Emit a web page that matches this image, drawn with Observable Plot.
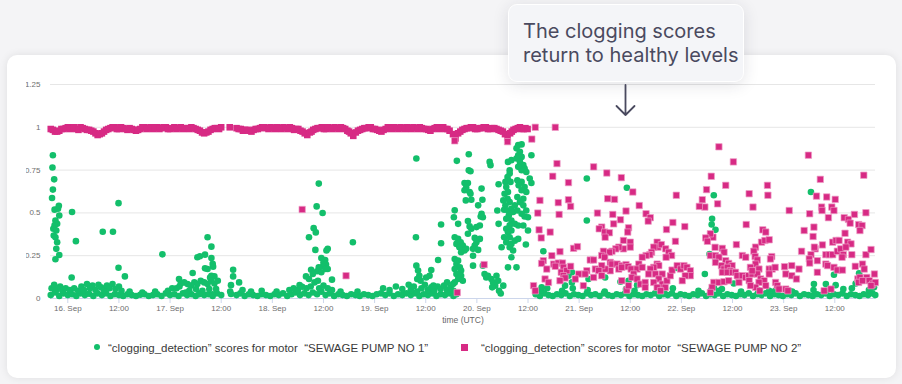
<!DOCTYPE html>
<html><head><meta charset="utf-8">
<script src="https://cdn.jsdelivr.net/npm/d3@7"></script>
<script src="https://cdn.jsdelivr.net/npm/@observablehq/plot@0.6"></script>
<style>
html,body{margin:0;padding:0}
body{width:902px;height:384px;position:relative;overflow:hidden;background:#f4f4f6;font-family:"Liberation Sans",Arial,sans-serif}
.card{position:absolute;left:7px;top:55px;width:889px;height:323px;background:#fff;border-radius:10px;box-shadow:0 0 8px rgba(0,0,0,.09)}
#chart{position:absolute;left:0;top:0}
.legend-item{position:absolute;top:341px;font-size:11.5px;line-height:14px;color:#3a3a3a;white-space:pre}
.legend-marker{position:absolute}
.note{position:absolute;left:508px;top:4px;width:236px;height:78px;box-sizing:border-box;background:#f4f5f8;border:1.5px solid #fff;border-radius:9px;box-shadow:0 3px 16px rgba(40,40,60,.13);font-family:Inter,"Noto Sans",sans-serif;font-size:20px;line-height:24px;color:#4a4a5f;padding:14px 0 0 14px}
.arrow{position:absolute;left:615px;top:84px}
</style></head><body>
<div class="card"></div>
<div id="chart"></div>
<div id="legend"></div>
<div class="note">The clogging scores<br>return to healthy levels</div>
<svg class="arrow" width="22" height="34" viewBox="0 0 22 34"><path d="M10.5 1V31M1.5 22L10.5 31L19.5 22" fill="none" stroke="#4a4a5f" stroke-width="1.8" stroke-linecap="round" stroke-linejoin="round"/></svg>
<script>
// times: hours after 16 Sep 00:00 UTC; values: clogging score
const seriesNames = [
  "\u201cclogging_detection\u201d scores for motor  \u201cSEWAGE PUMP NO 1\u201d",
  "\u201cclogging_detection\u201d scores for motor  \u201cSEWAGE PUMP NO 2\u201d"
];
const yTicks = [0, 0.25, 0.5, 0.75, 1, 1.25];

const pump1Baseline = [
[-4,.02],[-3,.035],[-2,.015],[-1,.03],[0,.02],[1,.025],[2,.015],[3,.03],[4,.02],[5,.028],[6,.015],[7,.03],[8,.02],[9,.03],[10,.015],[11,.025],[12,.02],[13,.015],[14,.025],[15,.02],[16,.015],[17,.022],[18,.025],[19,.015],[20,.02],[21,.025],[22,.015],[23,.03],[24,.02],[25,.025],[26,.015],[27,.03],[28,.02],[29,.025],[30,.015],[31,.03],[32,.02],[33,.025],[34,.015],[35,.03],[36,.02],
[39.6,.02],[40.5,.03],[41.5,.015],[42.5,.025],[43.5,.02],[44.5,.015],[45.5,.025],[46.5,.02],[47.5,.015],[48.5,.025],[49.5,.02],[50.5,.03],[51.5,.015],[52.5,.025],[53.5,.035],[54.5,.02],[55.5,.03],[56.5,.02],[57.5,.035],[58.5,.025],[59.5,.04],[60.5,.02],[61.5,.03],[62.5,.015],[63.5,.025],[64.5,.02],[65.5,.015],[66.5,.025],[67.5,.02],[68.5,.015],[69.5,.025],[70.5,.02],[71.5,.015],[72.5,.025],[73.5,.03],[74.5,.02],[75.5,.03],[76.5,.015],[77.5,.025],[78.5,.02],[79.5,.03],[80.5,.02],[81.5,.03],[82.5,.015],[83.5,.025],[84.5,.02],[85.5,.03],[86.5,.015],[87.5,.025],[88.5,.02],[89.5,.03],[90.5,.015],[91.2,.025],
[109.8,.025],[110.8,.015],[111.8,.03],[112.8,.02],[113.8,.015],[114.8,.025],[115.8,.02],[116.8,.03],[117.8,.015],[118.8,.025],[119.8,.02],[120.8,.015],[121.8,.03],[122.8,.02],[123.8,.025],[124.8,.015],[125.8,.03],[126.8,.02],[127.8,.015],[128.8,.025],[129.8,.02],[130.8,.03],[131.8,.015],[132.8,.025],[133.8,.02],[134.8,.015],[135.8,.025],[136.8,.02],[137.8,.03],[138.8,.015],[139.8,.025],[140.8,.02],[141.8,.03],[142.8,.015],[143.8,.025],[144.8,.02],[145.8,.015],[146.8,.025],[147.8,.02],[148.8,.03],[149.8,.015],[150.8,.025],[151.8,.02],[152.8,.03],[153.8,.015],[154.8,.025],[155.8,.02],[156.8,.015],[157.8,.025],[158.8,.02],[159.8,.03],[160.8,.015],[161.8,.025],[162.8,.02],[163.8,.03],[164.8,.015],[165.8,.025],[166.8,.02],[167.8,.015],[168.8,.025],[169.8,.02],[170.8,.03],[171.8,.015],[172.8,.025],[173.8,.02],[174.8,.015],[175.8,.025],[176.8,.02],[177.8,.03],[178.8,.015],[179.8,.025],[180.8,.02],[181.8,.03],[182.8,.015],[183.8,.025],[184.8,.02],[185.8,.015],[186.8,.025],[187.8,.02],[188.8,.03],[189.5,.02]
];
const pump1Cluster = [
[-3.8,.06],[-3.2,.08],[-2.6,.05],[-1.8,.07],[-1.2,.045],[-0.5,.06],[0.5,.05],[1.5,.06],[2.4,.045],[3.2,.07],[3.8,.05],[4.5,.085],[5.2,.06],[5.8,.075],[6.5,.05],[7.2,.08],[7.8,.065],[8.5,.05],[9.2,.075],[9.8,.06],[10.5,.085],[11.2,.055],[12.0,.07],[12.6,.045],[14.5,.04],[17.5,.035],[20.5,.04],[23.5,.045],[24.5,.06],[25.5,.06],[26.2,.07],
[41,.05],[43,.04],[45.5,.045],[49,.04],[52,.05],[53,.06],[54,.05],[56,.06],[57,.07],[59,.06],[60,.075],[61,.06],[62,.05],[64,.04],[68,.04],[74,.06],[75.5,.05],[77,.07],[78.5,.055],[80,.08],[80.5,.05],[81.2,.07],[82,.04],[83,.06],[83.8,.08],[84.5,.05],[85.3,.065],[86,.045],[86.8,.07],[87.5,.055],[88.3,.075],[89,.05],[89.8,.065],[90.5,.045],
[111,.05],[112.5,.06],[116,.045],[118.5,.06],[122,.05],[126,.04],[131,.055],[133,.045],[140,.05],[142,.06],[148,.045],[151,.05],[153.5,.055],[158,.04],[162,.05],[166,.045],[170,.04],[175,.05],[178,.045],[182,.055],[184,.06],[188,.05],[189.2,.065]
];
const pump1Points = [
[-3.5,.837],[-3.6,.765],[-3.2,.696],[-3.5,.636],[-3.7,.587],[-3.1,.519],[-2.3,.524],[-2.1,.542],[-2.0,.485],[-2.9,.456],[-2.5,.437],[-3.1,.427],[-3.4,.407],[-2.7,.397],[-3.3,.368],[-2.9,.358],[-2.5,.329],[-2.7,.29],[-2.0,.254],[-2.9,.229],
[1.0,.505],[1.9,.335],[0.9,.123],[8.2,.39],[10.6,.39],[11.9,.557],[11.9,.18],[13.4,.129],[22.2,.258],[26.1,.114],[26.5,.088],
[32.8,.358],[33.7,.303],[30.4,.241],[31.0,.247],[32.2,.256],[33.7,.237],[34.0,.202],[34.1,.186],[32.8,.172],[32.2,.176],[29.3,.149],[33.7,.133],[34.4,.129],[33.4,.123],
[27.3,.094],[28.1,.084],[28.9,.075],[29.7,.094],[30.4,.084],[31.2,.104],[32.0,.094],[32.8,.084],[33.6,.104],[34.4,.088],[35.2,.104],[28.5,.045],[30.1,.055],[31.6,.045],[33.2,.055],[34.8,.055],[27.7,.035],[30.8,.025],[34.0,.025],
[38.8,.168],[38.8,.129],[38.3,.078],[38.1,.041],[38.3,.026],[40.2,.094],
[58.9,.671],[58.4,.538],[59.8,.499],[57.7,.411],[58.2,.386],[56.6,.358],[58.1,.284],[61.0,.29],[60.7,.28],[59.5,.237],[60.4,.225],[60.0,.21],[60.6,.198],[59.9,.188],[58.9,.182],[58.5,.159],[59.5,.153],[60.5,.172],[61.0,.172],[57.1,.168],[57.5,.143],[55.9,.129],[56.6,.114],[57.9,.094],[58.7,.104],[62.0,.11],[54.4,.078],[55.0,.069],[66.9,.329],
[81.8,.818],[81.7,.358],
[81.8,.192],[82.2,.163],[82.5,.133],[82.0,.114],[82.8,.104],[85.3,.166],[84.9,.133],[84.1,.123],[86.9,.225],[87.6,.432],[87.6,.323],[89.0,.094],[85.8,.075],
[90.8,.231],[91.6,.221],[91.2,.202],[92.0,.182],[90.8,.172],[92.3,.163],[91.2,.143],[92.3,.133],[91.6,.114],[90.8,.094],[92.7,.104],[90.4,.084],
[90.8,.515],[90.6,.475],[90.8,.358],[91.6,.348],[91.2,.319],[92.2,.329],[92.7,.309],[91.9,.299],[93.1,.28],[92.3,.27],[93.5,.29],
[95.1,.25],[95.1,.192],[91.6,.436],[93.9,.452],[94.3,.421],[94.7,.407],[95.9,.417],[96.7,.426],[93.9,.378],
[95.5,.354],[96.7,.348],[95.9,.329],[95.5,.309],[95.1,.29],[96.3,.284],
[93.1,.675],[93.9,.675],[93.5,.648],[93.1,.632],[94.3,.622],[94.5,.612],[93.4,.573],[94.7,.577],[94.1,.749],[94.5,.743],[94.1,.843],[91.3,.804],
[97.1,.642],[97.3,.577],[96.3,.544],[97.1,.495],[97.4,.475],[96.9,.479],[99.0,.798],[99.2,.779],[101.1,.667],[100.8,.514],[101.1,.436],
[97.4,.192],[97.8,.143],[98.2,.123],[98.6,.133],[99.4,.114],[99.8,.094],[100.6,.133],[101.0,.104],[100.3,.075],[99.6,.065],[101.2,.045],[101.6,.029],[102.2,.075],
[103.3,.798],[104.1,.808],[103.7,.749],[103.7,.73],[103.2,.71],[103.3,.691],[102.7,.681],[103.9,.681],
[102.9,.651],[103.3,.622],[102.5,.612],[103.2,.583],[102.2,.573],[103.7,.563],[102.7,.544],[102.4,.518],[103.3,.514],[104.1,.524],[104.5,.505],[103.5,.485],[102.9,.466],[104.1,.456],[104.9,.436],[103.7,.427],[102.9,.407],[104.1,.397],[103.3,.387],[102.4,.358],[103.7,.358],[102.9,.329],[103.7,.299],
[101.8,.299],[104.1,.319],[104.9,.338],[104.5,.28],[105.7,.348],
[105.7,.896],[106.5,.9],[105.3,.877],[106.1,.857],[105.7,.837],[106.5,.827],[105.3,.818],[106.1,.798],[106.9,.779],[107.2,.759],[106.5,.749],[107.6,.739],[105.7,.769],
[108.8,.837],[108.4,.701],[108.8,.675],
[105.5,.69],[106.5,.681],[105.8,.661],[107.2,.651],[106.5,.632],[107.6,.622],[105.5,.593],[106.9,.583],[106.1,.563],[104.9,.544],[106.9,.544],[107.6,.514],[105.5,.514],[106.5,.495],[107.2,.479],[108.0,.475],[106.9,.426],[105.7,.426],[108.0,.397],
[107.5,.315],[104.1,.241],[103.3,.182],[105.3,.182],[110.0,.041],
[111.6,.276],[111.2,.065],[121.8,.701],[121.8,.456],[131.2,.647],[143.0,.178],[126.1,.123],[129.7,.098],[131.6,.104],[133.6,.078],[118.3,.153],[117.5,.133],[118.3,.094],[116.7,.075],[122.2,.114],
[151.6,.603],[151.2,.466],[151.1,.432],[152.0,.401],[150.6,.26],[152.4,.241],[149.5,.143],[151.6,.065],[152.8,.045],[156.3,.088],
[174.4,.622],[179.8,.139],[177.9,.084],[180.2,.078],[185.7,.147],[184.9,.088],[175.1,.084],[169.3,.045],[164.6,.045]
];

const pump2Band = [
[-4,.99],[-3,.975],[-2,.98],[-1,.99],[0,1],[1,.995],[2,.99],[3,1],[4,.99],[5,.985],[6,.975],[7,.955],[8,.965],[9,.985],[10,.995],[11,1],[12,.99],[13,.995],[14,.985],[15,.99],[16,.98],[17,.99],[18,1],[19,.995],[20,.99],[21,1],[22,.995],[23,1],[24,.99],[25,1],[26,.995],[27,.99],[28,.995],[29,1],[30,.99],[31,.98],[32,.965],[33,.975],[34,.99],[35,.995],[36,1],
[38,1],
[39.6,.995],[40.6,.99],[41.6,.985],[42.6,.98],[43.6,.985],[44.6,.99],[45.6,1],[46.6,.995],[47.6,1],[48.6,.99],[49.6,.995],[50.6,1],[51.6,.99],[52.6,.995],[53.6,.99],[54.6,.98],[55.6,.965],[56.2,.955],[56.8,.97],[57.6,.985],[58.6,.995],[59.6,1],[60.6,.99],[61.6,.995],[62.6,1],[63.6,.99],[64.6,.995],[65.6,.98],[66.4,.965],[67,.95],[67.6,.97],[68.6,.985],[69.6,.995],[70.6,1],[71.6,.99],[72.6,.985],[73.6,.975],[74.6,.99],[75.6,.995],[76.6,1],[77.6,.99],[78.6,.995],[79.6,1],[80.6,.99],[81.6,.995],[82.6,1],[83.6,.99],[84.6,.985],[85.6,.99],[86.6,1],[87.6,.995],[88.6,.99],[89.6,.98],[90.4,.96],[91,.935],[91.6,.965],[92.6,.985],[93.6,.995],[94.6,1],[95.6,.99],[96.6,.995],[97.6,1],[98.6,.99],[99.6,.995],[100.6,.99],[101.6,.98],[102.6,.96],[103.2,.94],[103.8,.965],[104.6,.985],[105.6,.995],[106.6,.99],[107.4,.995]
];
const pump2BandHalfHours = [
[-3.5,.985],[-2.5,.975],[-1.5,.99],[-0.5,.995],[0.5,.99],[1.5,1],[2.5,.985],[3.5,.995],[4.5,.985],[5.5,.98],[6.5,.965],[7.5,.96],[8.5,.975],[9.5,.99],[10.5,1],[11.5,.99],[12.5,1],[13.5,.99],[14.5,.995],[15.5,.985],[16.5,.985],[17.5,1],[18.5,.99],[19.5,1],[20.5,.995],[21.5,.99],[22.5,1],[23.5,.99],[24.5,.995],[25.5,.99],[26.5,1],[27.5,.995],[28.5,.99],[29.5,.995],[30.5,.985],[31.5,.97],[32.5,.97],[33.5,.985],[34.5,.995],[35.5,.99],
[40.1,.99],[41.1,.98],[42.1,.985],[43.1,.975],[44.1,.99],[45.1,.995],[46.1,1],[47.1,.99],[48.1,.995],[49.1,1],[50.1,.99],[51.1,.995],[52.1,1],[53.1,.985],[54.1,.99],[55.1,.975],[57.2,.975],[58.1,.99],[59.1,.995],[60.1,.99],[61.1,1],[62.1,.99],[63.1,.995],[64.1,1],[65.1,.99],[66,.975],[68.1,.98],[69.1,.99],[70.1,.995],[71.1,1],[72.1,.99],[73.1,.98],[74.1,.985],[75.1,1],[76.1,.99],[77.1,.995],[78.1,1],[79.1,.99],[80.1,.995],[81.1,1],[82.1,.99],[83.1,.995],[84.1,.99],[85.1,.98],[86.1,.995],[87.1,.99],[88.1,1],[89.1,.99],[92.1,.975],[93.1,.99],[94.1,.995],[95.1,1],[96.1,.99],[97.1,.995],[98.1,1],[99.1,.99],[100.1,.995],[101.1,.985],[102.1,.975],[104.2,.975],[105.1,.99],[106.1,1],[107,.99],[107.9,.99]
];
const pump2Points = [
[55.0,.52],[65.3,.133],[90.8,.921],[91.4,.035],[97.7,.198],[103.2,.916],
[108.9,.931],[109.7,1.0],[114.4,1.0],
[114.8,.788],[113.8,.714],[117.5,.677],[110.8,.573],[115.1,.56],[117.5,.577],[118.0,.538],[110.3,.499],[115.3,.491],[110.6,.401],[113.2,.388],[111.1,.354],[115.5,.274],[118.7,.293],[119.6,.303],[111.6,.221],[111.2,.205],[113.6,.25],[114.0,.201],[115.1,.207],[116.1,.207],[114.4,.188],[116.3,.182],[115.8,.153],[117.1,.163],[118.0,.188],[116.3,.133],[116.7,.12],[115.5,.104],[112.4,.172],[112.0,.114],[112.8,.094],[109.3,.075],[109.7,.045],[119.9,.143],[119.1,.114],[121.0,.075],
[123.4,.769],[126.5,.733],[129.9,.706],[132.6,.622],[126.7,.583],[128.3,.579],[124.3,.499],[127.9,.491],[131.0,.511],[129.7,.46],[128.1,.436],[125.3,.417],[124.7,.407],[126.0,.388],[127.1,.384],[126.1,.358],[131.6,.413],[131.4,.388],[130.4,.339],[132.0,.329],[132.0,.3],[130.4,.29],[129.3,.3],[128.6,.29],[127.7,.276],[127.1,.27],[125.7,.276],[125.3,.251],[126.0,.241],[122.6,.225],[123.4,.225],[121.8,.162],[121.4,.143],[127.3,.211],[127.7,.201],[128.9,.201],[130.0,.192],[131.0,.198],[127.3,.162],[126.1,.172],[125.3,.192],[129.3,.172],[130.0,.182],[131.5,.186],[132.2,.172],[123.8,.172],[124.6,.163],[125.3,.133],[123.4,.123],[131.2,.049],[130.0,.104],
[134.1,.543],[135.7,.495],[136.7,.472],[136.2,.452],[142.8,.603],[140.5,.403],[142.0,.444],[144.8,.42],[142.6,.334],[138.3,.329],[138.5,.3],[139.3,.315],[137.5,.3],[137.0,.27],[136.6,.256],[135.7,.251],[134.8,.241],[140.3,.29],[141.0,.27],[141.7,.251],[140.4,.241],[138.3,.201],[138.7,.192],[137.5,.182],[136.7,.172],[136.3,.143],[137.9,.143],[139.5,.143],[138.7,.114],[137.5,.094],[139.5,.084],[140.2,.065],[138.3,.065],[140.6,.104],[141.4,.133],[141.8,.166],[143.0,.192],[143.8,.172],[144.6,.192],[145.3,.182],[146.1,.162],[146.1,.133],[144.9,.133],[144.2,.104],[134.0,.201],[133.6,.172],[134.8,.182],[132.8,.143],[132.4,.123],[133.6,.114],[134.4,.084],[135.5,.094],[135.5,.065],[131.6,.075],[139.1,.045],
[152.8,.886],[156.2,.798],[151.0,.714],[154.4,.661],[149.9,.636],[148.9,.577],[149.5,.534],[148.2,.538],[152.5,.553],[151.4,.358],[150.8,.378],[149.7,.354],[150.1,.334],[151.9,.299],[153.6,.293],[154.0,.27],[150.8,.251],[152.0,.251],[152.8,.241],[154.4,.221],[155.1,.205],[155.9,.192],[152.0,.211],[153.4,.192],[154.0,.172],[154.8,.182],[155.5,.162],[153.6,.153],[154.8,.153],[156.0,.153],[156.7,.153],[157.1,.133],[158.3,.133],[159.1,.123],[159.8,.133],[160.6,.143],[151.6,.094],[152.8,.094],[154.0,.098],[155.1,.104],[157.5,.094],[151.2,.065],[150.8,.035],[156.9,.315],[158.3,.251],[159.1,.241],[159.9,.612],[160.8,.534],[159.2,.432],[161.4,.3],[161.0,.276],[161.3,.245],[161.8,.225],[161.4,.201],[162.2,.172],[161.8,.143],[163.1,.401],[163.8,.388],[164.2,.661],[164.3,.603],[162.8,.329],[163.6,.339],[164.6,.343],[165.2,.245],[164.9,.231],[164.6,.172],[165.3,.172],[166.0,.182],[164.6,.143],[162.6,.114],[163.4,.104],[162.2,.094],[163.8,.075],[161.4,.065],[162.4,.045],[160.2,.182],[160.6,.162],[159.9,.104],[160.2,.075],
[173.8,.837],[176.6,.696],[186.8,.72],[175.7,.598],[178.1,.593],[180.1,.579],[169.3,.514],[176.9,.534],[177.0,.514],[179.3,.534],[179.8,.514],[174.1,.495],[187.3,.501],[184.6,.491],[178.5,.472],[182.2,.472],[183.2,.462],[183.6,.44],[185.6,.432],[186.4,.426],[185.9,.397],[172.8,.397],[175.1,.417],[182.4,.381],[174.9,.362],[168.2,.186],[169.9,.192],[171.6,.172],[168.5,.143],[169.9,.133],[171.0,.114],[172.2,.276],[175.4,.29],[175.2,.3],[174.4,.256],[174.0,.231],[177.1,.313],[179.5,.329],[180.3,.339],[181.0,.339],[177.9,.256],[178.7,.256],[179.5,.256],[180.6,.276],[181.4,.29],[183.0,.329],[183.8,.319],[182.6,.3],[182.0,.256],[181.7,.241],[184.0,.256],[187.3,.256],[188.5,.286],[174.1,.207],[175.9,.221],[177.9,.201],[178.3,.192],[179.8,.182],[180.6,.166],[181.8,.166],[184.8,.188],[186.5,.201],[186.9,.172],[187.5,.123],[175.9,.153],[185.4,.114],[185.9,.123],[185.6,.094],[186.5,.104],[189.3,.143],[188.1,.104],[188.9,.084],[189.5,.094],[188.5,.075],[177.5,.045],[179.1,.055],[168.5,.055],[169.0,.045],[166.1,.094],[166.5,.075],[166.9,.055]
];

const green = "#13bf6b", magenta = "#d72a84";
const t0 = Date.UTC(2023, 8, 16);
const toDate = h => new Date(t0 + h * 36e5);
const toRows = arr => arr.map(([h, v]) => ({time: toDate(h), score: v}));
const pump1 = toRows([...pump1Baseline, ...pump1Cluster, ...pump1Points]);
const pump2BandRows = toRows([...pump2Band, ...pump2BandHalfHours]);
const pump2Scatter = toRows(pump2Points);

const xDomain = [toDate(-4.06), toDate(189.55)];
const xTicks = d3.utcHour.every(12).range(xDomain[0], xDomain[1]);
const fmtDay = d3.utcFormat("%-d. %b"), fmtHour = d3.utcFormat("%H:%M");

const chart = Plot.plot({
  width: 902, height: 330,
  marginLeft: 50, marginRight: 27, marginTop: 84, marginBottom: 32,
  style: {background: "transparent", fontFamily: '"Liberation Sans", Arial, sans-serif', fontSize: "8px", color: "#6e6e6e"},
  x: {type: "utc", domain: xDomain},
  y: {domain: [0, 1.25]},
  marks: [
    Plot.gridY(yTicks.slice(1), {stroke: "#e6e6e6", strokeOpacity: 1}),
    Plot.axisY(yTicks, {tickSize: 0, tickPadding: 10, tickFormat: d => String(d), label: null, fill: "#6e6e6e"}),
    Plot.axisX(xTicks, {tickSize: 5, tickPadding: 2, stroke: "#ccd6eb", label: null, fill: "#6e6e6e",
      tickFormat: d => d.getUTCHours() === 0 ? fmtDay(d) : fmtHour(d)}),
    Plot.ruleY([0], {stroke: "#ccd6eb"}),
    Plot.text(["time (UTC)"], {text: d => d, frameAnchor: "bottom", dy: 24, fontSize: 8.5, fill: "#666"}),
    Plot.dot(pump1, {x: "time", y: "score", r: 3.3, fill: green}),
    Plot.dot(pump2BandRows, {x: "time", y: "score", symbol: "square", r: 3.7, fill: magenta}),
    Plot.dot(pump2Scatter, {x: "time", y: "score", symbol: "square", r: 3.6, fill: magenta, stroke: "#ee9cc6", strokeWidth: 0.7})
  ]
});
chart.style.clipPath = "inset(0px 0px 0px 26px)";
document.getElementById("chart").append(chart);

// legend
const legend = document.getElementById("legend");
const legendSpec = [
  {name: seriesNames[0], color: green, round: true, mx: 94, my: 344, ms: 6, tx: 108},
  {name: seriesNames[1], color: magenta, round: false, mx: 461, my: 344, ms: 6.5, tx: 481}
];
for (const s of legendSpec) {
  const m = document.createElement("div");
  m.className = "legend-marker";
  Object.assign(m.style, {left: s.mx + "px", top: s.my + "px", width: s.ms + "px", height: s.ms + "px",
    background: s.color, borderRadius: s.round ? "50%" : "0"});
  legend.append(m);
  const t = document.createElement("div");
  t.className = "legend-item";
  t.style.left = s.tx + "px";
  t.textContent = s.name;
  legend.append(t);
}
</script>
</body></html>
